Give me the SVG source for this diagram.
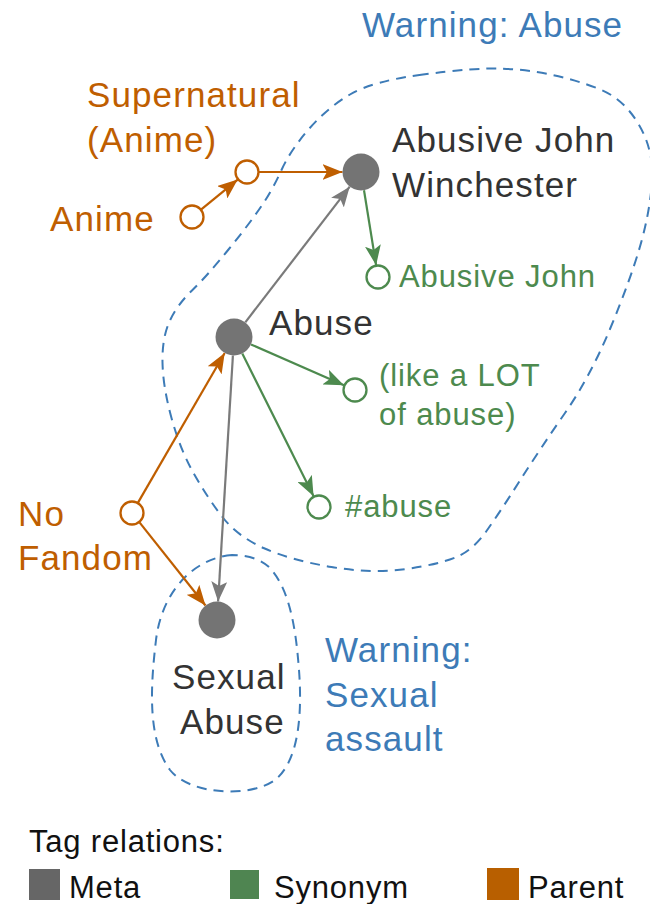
<svg xmlns="http://www.w3.org/2000/svg" width="650" height="904" viewBox="0 0 650 904">
  <style>
    text { font-family: "Liberation Sans", Arial, Helvetica, sans-serif; }
    .lbl { font-size: 35px; letter-spacing: 1.1px; }
    .syn { font-size: 31px; letter-spacing: 0.9px; fill: #4d8a4e; }
    .dark { fill: #333333; }
    .par { fill: #bf5e00; }
    .warn { fill: #3d7bb7; }
    .leg { font-size: 31px; letter-spacing: 0.8px; fill: #111111; }
    .zone { fill: none; stroke: #3d7bb7; stroke-width: 2; stroke-dasharray: 10 7; }
    .meta-n { fill: #747474; }
    .open-par { fill: #ffffff; stroke: #bf5e00; stroke-width: 2.3; }
    .open-syn { fill: #ffffff; stroke: #4d8a4e; stroke-width: 2.3; }
    .e { fill: none; stroke-width: 2.2; }
    .e-par { stroke: #bf5e00; marker-end: url(#ah-par); }
    .e-syn { stroke: #4d8a4e; marker-end: url(#ah-syn); }
    .e-meta { stroke: #7a7a7a; marker-end: url(#ah-meta); }
  </style>
  <defs>
    <marker id="ah-par" markerUnits="userSpaceOnUse" markerWidth="20" markerHeight="16" refX="20" refY="8" orient="auto">
      <path d="M0,0 L20,8 L0,16 L4.5,8 Z" fill="#bf5e00"/>
    </marker>
    <marker id="ah-syn" markerUnits="userSpaceOnUse" markerWidth="20" markerHeight="16" refX="20" refY="8" orient="auto">
      <path d="M0,0 L20,8 L0,16 L4.5,8 Z" fill="#4d8a4e"/>
    </marker>
    <marker id="ah-meta" markerUnits="userSpaceOnUse" markerWidth="20" markerHeight="16" refX="20" refY="8" orient="auto">
      <path d="M0,0 L20,8 L0,16 L4.5,8 Z" fill="#7a7a7a"/>
    </marker>
  </defs>

  <rect width="650" height="904" fill="#ffffff"/>

  <!-- warning zones -->
  <g id="zone-abuse">
    <path class="zone" d="M 423,74.5 Q 373,81 350,94.5 Q 327,108 308.5,129.5 Q 290,151 281.5,170 Q 273,189 261.5,206 Q 250,223 228.5,249.5 Q 207,276 192,290.5 Q 177,305 169.5,321.5 Q 162,338 162.5,362.5 Q 163,387 171.5,418 Q 180,449 193.5,473 Q 207,497 222,516.5 Q 237,536 263.5,548 Q 290,560 331.5,567 Q 373,574 406.5,569 Q 440,564 456.5,557 Q 473,550 486.5,531 Q 500,512 520,480.5 Q 540,449 565,413 Q 590,377 610,329 Q 630,281 640,246.5 Q 650,212 652,181 Q 654,150 638.5,124 Q 623,98 598,88.5 Q 573,79 548,74 Q 523,69 498,68.5 Q 473,68 423,74.5 Z"/>
    <text class="lbl warn" x="362" y="37">Warning: Abuse</text>
  </g>
  <g id="zone-sexual-assault">
    <path class="zone" d="M 232,555 C 195,558 162,590 156,640 C 150,690 148,740 170,770 C 190,795 250,798 275,780 C 300,760 302,710 299,670 C 296,630 290,590 270,568 C 260,558 245,555 232,555 Z"/>
    <text class="lbl warn" x="325" y="662">Warning:</text>
    <text class="lbl warn" x="325" y="707">Sexual</text>
    <text class="lbl warn" x="325" y="751">assault</text>
  </g>

  <!-- connectors -->
  <g id="connectors">
    <line class="e e-par" x1="201.3" y1="209.4" x2="237.7" y2="179.6"/>
    <line class="e e-par" x1="259" y1="172" x2="342.5" y2="172"/>
    <line class="e e-meta" x1="245.3" y1="322.3" x2="349.7" y2="186.7"/>
    <line class="e e-syn" x1="364" y1="190.3" x2="376.1" y2="265.2"/>
    <line class="e e-syn" x1="251" y1="344.4" x2="344" y2="385.2"/>
    <line class="e e-syn" x1="242.3" y1="353.5" x2="313.6" y2="496.3"/>
    <line class="e e-meta" x1="232.9" y1="355.5" x2="218.1" y2="601.5"/>
    <line class="e e-par" x1="138" y1="502.6" x2="224.7" y2="353"/>
    <line class="e e-par" x1="139.5" y1="522.4" x2="205.5" y2="605.5"/>
  </g>

  <!-- nodes -->
  <g id="node-anime">
    <circle class="open-par" cx="192" cy="217" r="11.5"/>
    <text class="lbl par" x="50" y="231">Anime</text>
  </g>
  <g id="node-supernatural-anime">
    <circle class="open-par" cx="247" cy="172" r="11.5"/>
    <text class="lbl par" x="87" y="107">Supernatural</text>
    <text class="lbl par" x="87" y="152">(Anime)</text>
  </g>
  <g id="node-abusive-john-winchester">
    <circle class="meta-n" cx="361" cy="172" r="18.5"/>
    <text class="lbl dark" x="392" y="152">Abusive John</text>
    <text class="lbl dark" x="392" y="197">Winchester</text>
  </g>
  <g id="node-abusive-john">
    <circle class="open-syn" cx="378" cy="277" r="11.5"/>
    <text class="syn" x="399" y="287">Abusive John</text>
  </g>
  <g id="node-abuse">
    <circle class="meta-n" cx="234" cy="337" r="18.5"/>
    <text class="lbl dark" x="269" y="335">Abuse</text>
  </g>
  <g id="node-like-a-lot">
    <circle class="open-syn" cx="355" cy="390" r="11.5"/>
    <text class="syn" x="379" y="386">(like a LOT</text>
    <text class="syn" x="379" y="425">of abuse)</text>
  </g>
  <g id="node-hash-abuse">
    <circle class="open-syn" cx="319" cy="507" r="11.5"/>
    <text class="syn" x="345" y="517">#abuse</text>
  </g>
  <g id="node-no-fandom">
    <circle class="open-par" cx="132" cy="513" r="11.5"/>
    <text class="lbl par" x="18" y="526">No</text>
    <text class="lbl par" x="18" y="570">Fandom</text>
  </g>
  <g id="node-sexual-abuse">
    <circle class="meta-n" cx="217" cy="620" r="18.5"/>
    <text class="lbl dark" x="172" y="689">Sexual</text>
    <text class="lbl dark" x="180" y="734">Abuse</text>
  </g>

  <!-- legend -->
  <g id="legend">
    <text class="leg" x="29" y="852">Tag relations:</text>
    <rect x="29" y="869" width="31" height="31" fill="#666666"/>
    <text class="leg" x="69" y="898">Meta</text>
    <rect x="230" y="870" width="29" height="29" fill="#4f8551"/>
    <text class="leg" x="274" y="898">Synonym</text>
    <rect x="487" y="868" width="32" height="32" fill="#b85f00"/>
    <text class="leg" x="528" y="898">Parent</text>
  </g>
</svg>
